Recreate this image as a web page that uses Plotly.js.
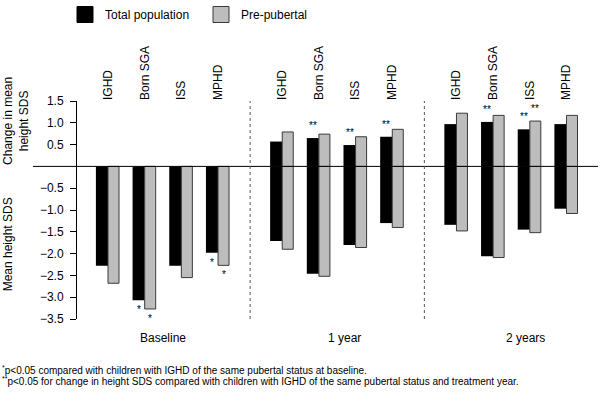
<!DOCTYPE html>
<html>
<head>
<meta charset="utf-8">
<script src="https://cdn.plot.ly/plotly-3.0.1.min.js"></script>
<style>html,body{margin:0;padding:0;background:#fff;}#chart{width:600px;height:405px;}</style>
</head>
<body>
<div id="chart"></div>
<script>
// ---- data ----
const categories = ['IGHD', 'Born SGA', 'ISS', 'MPHD'];
const periods = ['Baseline', '1 year', '2 years'];
const seriesNames = ['Total population', 'Pre-pubertal'];

// Mean height SDS (Baseline, 1 year, 2 years) x (IGHD, Born SGA, ISS, MPHD)
const totalMean   = [-2.28, -3.07, -2.28, -1.98,  -1.71, -2.46, -1.80, -1.30,  -1.34, -2.06, -1.45, -0.97];
const prepubMean  = [-2.68, -3.27, -2.55, -2.27,  -1.90, -2.52, -1.86, -1.40,  -1.48, -2.09, -1.52, -1.08];
// Change in mean height SDS (no change at baseline)
const totalChange  = [null, null, null, null,  0.57, 0.65, 0.49, 0.68,  0.97, 1.02, 0.85, 0.97];
const prepubChange = [null, null, null, null,  0.79, 0.74, 0.68, 0.85,  1.22, 1.17, 1.04, 1.17];

// significance marks
const totalMeanSig    = ['', '*', '', '*',  '', '', '', '',  '', '', '', ''];
const prepubMeanSig   = ['', '*', '', '*',  '', '', '', '',  '', '', '', ''];
const totalChangeSig  = ['', '', '', '',  '', '**', '**', '**',  '', '**', '**', ''];
const prepubChangeSig = ['', '', '', '',  '', '', '', '',  '', '', '**', ''];

const yTickVals = [1.5, 1.0, 0.5, -0.5, -1.0, -1.5, -2.0, -2.5, -3.0, -3.5];

const footnote1 = '<sup>*</sup>p<0.05 compared with children with IGHD of the same pubertal status at baseline.';
const footnote2 = '<sup>**</sup>p<0.05 for change in height SDS compared with children with IGHD of the same pubertal status and treatment year.';

// ---- layout helpers ----
const GROUP_STEP = 4.75;
const pos = [];
const catLabels = [];
periods.forEach((p, g) => categories.forEach((c, i) => { pos.push(g * GROUP_STEP + i); catLabels.push(c); }));

const W = 600, H = 405, ML = 77, MR = 2, MT = 100, MB = 86;
const PW = W - ML - MR, PH = H - MT - MB;
const px2paperX = px => (px - ML) / PW;
const px2paperY = py => (H - MB - py) / PH;

const FONT = 'Liberation Sans, Arial, Helvetica, sans-serif';
const BW = 0.33, GW = 0.30;
const BLACK = '#000', GRAY = '#bdbdbd', EDGE = '#3a3a3a';

const traces = [
  {type: 'bar', name: seriesNames[0], x: pos, y: totalMean, offset: -BW, width: BW, showlegend: false,
   marker: {color: BLACK, line: {color: BLACK, width: 0}}},
  {type: 'bar', name: seriesNames[1], x: pos, y: prepubMean, offset: 0, width: GW, showlegend: false,
   marker: {color: GRAY, line: {color: EDGE, width: 1}}},
  {type: 'bar', name: seriesNames[0], x: pos, y: totalChange, offset: -BW, width: BW, showlegend: false,
   marker: {color: BLACK, line: {color: BLACK, width: 0}}},
  {type: 'bar', name: seriesNames[1], x: pos, y: prepubChange, offset: 0, width: GW, showlegend: false,
   marker: {color: GRAY, line: {color: EDGE, width: 1}}},
  // legend keys (large square swatches)
  {type: 'scatter', mode: 'markers', name: seriesNames[0], x: [null], y: [null],
   marker: {symbol: 'square', size: 16, color: BLACK, line: {color: BLACK, width: 1}}},
  {type: 'scatter', mode: 'markers', name: seriesNames[1], x: [null], y: [null],
   marker: {symbol: 'square', size: 16, color: GRAY, line: {color: EDGE, width: 1}}}
];

const annotations = [];
function addSig(vals, sig, dx, below) {
  vals.forEach((v, i) => {
    if (!sig[i] || v == null) return;
    annotations.push({
      x: pos[i] + dx, y: v, xref: 'x', yref: 'y', text: sig[i], showarrow: false,
      font: {family: FONT, size: 10, color: '#000'},
      xanchor: 'center', yanchor: below ? 'top' : 'bottom', yshift: below ? -2 : 5
    });
  });
}
addSig(totalMean, totalMeanSig, -BW / 2, true);
addSig(prepubMean, prepubMeanSig, GW / 2, true);
addSig(totalChange, totalChangeSig, -BW / 2, false);
addSig(prepubChange, prepubChangeSig, GW / 2, false);

// period labels
const periodPx = [163, 344, 525];
periods.forEach((p, g) => annotations.push({
  x: px2paperX(periodPx[g]), y: px2paperY(338), xref: 'paper', yref: 'paper', text: p, showarrow: false,
  font: {family: FONT, size: 12, color: '#000'}, xanchor: 'center', yanchor: 'middle'
}));

// y titles
annotations.push({x: px2paperX(16), y: px2paperY(120), xref: 'paper', yref: 'paper',
  text: 'Change in mean<br>height SDS', textangle: -90, showarrow: false,
  font: {family: FONT, size: 12, color: '#000'}, xanchor: 'center', yanchor: 'middle'});
annotations.push({x: px2paperX(8), y: px2paperY(244), xref: 'paper', yref: 'paper',
  text: 'Mean height SDS', textangle: -90, showarrow: false,
  font: {family: FONT, size: 12, color: '#000'}, xanchor: 'center', yanchor: 'middle'});

// footnotes
annotations.push({x: px2paperX(0), y: px2paperY(370), xref: 'paper', yref: 'paper', text: footnote1,
  showarrow: false, font: {family: FONT, size: 10, color: '#000'}, xanchor: 'left', yanchor: 'middle'});
annotations.push({x: px2paperX(0), y: px2paperY(381), xref: 'paper', yref: 'paper', text: footnote2,
  showarrow: false, font: {family: FONT, size: 10, color: '#000'}, xanchor: 'left', yanchor: 'middle'});

const sep1 = (3 + GROUP_STEP) / 2, sep2 = GROUP_STEP + (3 + GROUP_STEP) / 2;
const shapes = [
  {type: 'line', xref: 'paper', yref: 'y', x0: px2paperX(33), x1: 1, y0: 0, y1: 0, line: {color: '#000', width: 1}},
  {type: 'line', xref: 'x', yref: 'y', x0: sep1, x1: sep1, y0: -3.5, y1: 1.5, line: {color: '#555', width: 1, dash: 'dot'}},
  {type: 'line', xref: 'x', yref: 'y', x0: sep2, x1: sep2, y0: -3.5, y1: 1.5, line: {color: '#555', width: 1, dash: 'dot'}}
];

const layout = {
  width: W, height: H,
  margin: {l: ML, r: MR, t: MT, b: MB, pad: 0},
  paper_bgcolor: '#fff', plot_bgcolor: '#fff',
  font: {family: FONT, size: 12, color: '#000'},
  barmode: 'overlay',
  showlegend: true,
  legend: {orientation: 'h', x: px2paperX(65), y: px2paperY(0), xanchor: 'left', yanchor: 'top',
           entrywidth: 91, entrywidthmode: 'pixels',
           font: {family: FONT, size: 12, color: '#000'}, bgcolor: 'rgba(0,0,0,0)', traceorder: 'normal'},
  xaxis: {
    side: 'top', range: [(ML - 108) / 36.68, (W - MR - 108) / 36.68],
    tickvals: pos, ticktext: catLabels, tickangle: -90, ticks: '',
    showgrid: false, zeroline: false, showline: false,
    tickfont: {family: FONT, size: 12, color: '#000'}, fixedrange: true
  },
  yaxis: {
    range: [-3.5, 1.5], tickvals: yTickVals, tickformat: '.1f',
    ticks: 'outside', ticklen: 6, tickwidth: 1, tickcolor: '#000', ticklabelstandoff: 4,
    showline: true, linecolor: '#000', linewidth: 1,
    showgrid: false, zeroline: false,
    tickfont: {family: FONT, size: 12, color: '#000'}, fixedrange: true
  },
  annotations: annotations,
  shapes: shapes
};

Plotly.newPlot('chart', traces, layout, {displayModeBar: false, staticPlot: true});
</script>
</body>
</html>
